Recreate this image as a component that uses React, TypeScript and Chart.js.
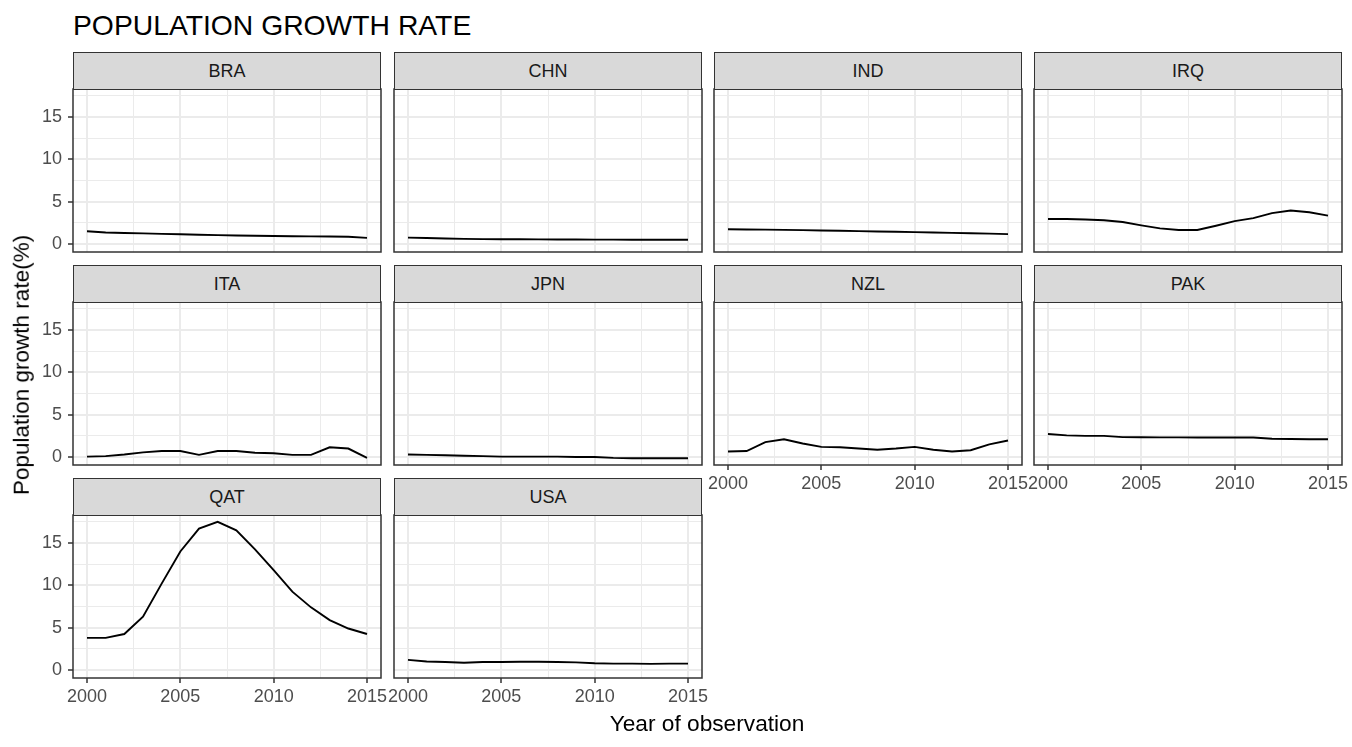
import { useEffect, useRef } from 'react';
import Chart from 'chart.js/auto';

const years = [2000, 2001, 2002, 2003, 2004, 2005, 2006, 2007, 2008, 2009, 2010, 2011, 2012, 2013, 2014, 2015];

// growth rate (%) per country
const braRate = [1.5, 1.35, 1.3, 1.25, 1.2, 1.15, 1.1, 1.05, 1.0, 0.97, 0.95, 0.92, 0.9, 0.88, 0.85, 0.72];
const chnRate = [0.75, 0.7, 0.65, 0.6, 0.58, 0.57, 0.56, 0.55, 0.54, 0.53, 0.52, 0.52, 0.51, 0.5, 0.5, 0.5];
const indRate = [1.75, 1.72, 1.7, 1.67, 1.64, 1.6, 1.56, 1.52, 1.48, 1.44, 1.4, 1.36, 1.32, 1.27, 1.22, 1.17];
const irqRate = [2.95, 2.95, 2.9, 2.8, 2.6, 2.2, 1.85, 1.65, 1.65, 2.15, 2.7, 3.05, 3.65, 3.95, 3.75, 3.35];
const itaRate = [0.05, 0.1, 0.3, 0.55, 0.7, 0.7, 0.25, 0.7, 0.7, 0.5, 0.45, 0.25, 0.25, 1.15, 1.0, -0.1];
const jpnRate = [0.3, 0.25, 0.2, 0.15, 0.1, 0.05, 0.05, 0.05, 0.05, 0.0, 0.0, -0.1, -0.15, -0.15, -0.15, -0.15];
const nzlRate = [0.65, 0.7, 1.75, 2.1, 1.6, 1.2, 1.15, 1.0, 0.85, 1.0, 1.2, 0.85, 0.65, 0.8, 1.5, 1.95];
const pakRate = [2.72, 2.55, 2.5, 2.5, 2.35, 2.33, 2.32, 2.32, 2.31, 2.3, 2.3, 2.3, 2.15, 2.12, 2.1, 2.1];
const qatRate = [3.8, 3.8, 4.25, 6.3, 10.2, 14.0, 16.7, 17.5, 16.5, 14.25, 11.8, 9.25, 7.4, 5.9, 4.9, 4.25];
const usaRate = [1.2, 1.0, 0.95, 0.85, 0.95, 0.95, 0.97, 0.97, 0.95, 0.9, 0.8, 0.75, 0.75, 0.72, 0.75, 0.75];

const countries = ['BRA', 'CHN', 'IND', 'IRQ', 'ITA', 'JPN', 'NZL', 'PAK', 'QAT', 'USA'];
const rates = [braRate, chnRate, indRate, irqRate, itaRate, jpnRate, nzlRate, pakRate, qatRate, usaRate];

const xGrid = [2000, 2002.5, 2005, 2007.5, 2010, 2012.5, 2015];
const yGrid = [0, 2.5, 5, 7.5, 10, 12.5, 15, 17.5];
const xLabels = [2000, 2005, 2010, 2015];
const yLabels = [0, 5, 10, 15];

const FONT = '"Liberation Sans", Arial, Helvetica, sans-serif';
Chart.defaults.font.family = FONT;

const colLeft = [73, 394, 714, 1034];
const stripTop = [52, 265, 478];
const PANEL_W = 308;
const PANEL_H = 163;
const STRIP_H = 37;
const AXIS_W = 45;
const AXIS_H = 34;
const PAD_T = 24;
const PAD_R = 30;

const panelBorder = {
  id: 'panelBorder',
  afterDraw(chart: any) {
    const { ctx, chartArea: a } = chart;
    ctx.save();
    ctx.strokeStyle = '#333333';
    ctx.lineWidth = 1.5;
    ctx.strokeRect(a.left, a.top, a.right - a.left, a.bottom - a.top);
    ctx.restore();
  },
};

function Panel({ code, values, col, row, showX, showY }: { code: string; values: number[]; col: number; row: number; showX: boolean; showY: boolean }) {
  const ref = useRef<HTMLCanvasElement>(null);

  useEffect(() => {
    if (!ref.current) return;
    const chart = new Chart(ref.current, {
      type: 'line',
      data: {
        datasets: [
          {
            label: code,
            data: years.map((yr, i) => ({ x: yr, y: values[i] })),
            borderColor: '#000000',
            borderWidth: 1.9,
            pointRadius: 0,
            tension: 0,
            fill: false,
          },
        ],
      },
      options: {
        animation: false,
        responsive: true,
        maintainAspectRatio: false,
        layout: { padding: { top: PAD_T, right: PAD_R, left: 0, bottom: 0 } },
        plugins: { legend: { display: false }, tooltip: { enabled: false } },
        scales: {
          x: {
            type: 'linear',
            bounds: 'data',
            min: 1999.25,
            max: 2015.75,
            afterBuildTicks: (s: any) => {
              s.ticks = xGrid.map((v) => ({ value: v }));
            },
            afterFit: (s: any) => {
              s.height = AXIS_H;
            },
            ticks: {
              display: showX,
              autoSkip: false,
              maxRotation: 0,
              padding: 3,
              color: '#4D4D4D',
              font: { size: 18 },
              callback: (v: any) => (xLabels.includes(Number(v)) ? String(v) : ''),
            },
            grid: {
              color: '#EBEBEB',
              lineWidth: (c: any) => (c.tick && xLabels.includes(c.tick.value) ? 2 : 1),
              drawTicks: showX,
              tickLength: 5,
              tickWidth: 1.5,
              tickColor: (c: any) => (c.tick && xLabels.includes(c.tick.value) ? '#333333' : 'rgba(0,0,0,0)'),
            },
            border: { display: false },
          },
          y: {
            type: 'linear',
            bounds: 'data',
            min: -0.945,
            max: 18.31,
            afterBuildTicks: (s: any) => {
              s.ticks = yGrid.map((v) => ({ value: v }));
            },
            afterFit: (s: any) => {
              s.width = AXIS_W;
            },
            ticks: {
              display: showY,
              autoSkip: false,
              padding: 6,
              color: '#4D4D4D',
              font: { size: 18 },
              callback: (v: any) => (yLabels.includes(Number(v)) ? String(v) : ''),
            },
            grid: {
              color: '#EBEBEB',
              lineWidth: (c: any) => (c.tick && yLabels.includes(c.tick.value) ? 2 : 1),
              drawTicks: showY,
              tickLength: 5,
              tickWidth: 1.5,
              tickColor: (c: any) => (c.tick && yLabels.includes(c.tick.value) ? '#333333' : 'rgba(0,0,0,0)'),
            },
            border: { display: false },
          },
        },
      },
      plugins: [panelBorder],
    });
    return () => chart.destroy();
  }, [code, values, showX, showY]);

  const left = colLeft[col];
  const top = stripTop[row];

  return (
    <>
      <div
        style={{
          position: 'absolute',
          left: left - AXIS_W,
          top: top + STRIP_H - PAD_T,
          width: PANEL_W + AXIS_W + PAD_R,
          height: PANEL_H + PAD_T + AXIS_H,
        }}
      >
        <canvas ref={ref} />
      </div>
      <div
        style={{
          position: 'absolute',
          left,
          top,
          width: PANEL_W,
          height: STRIP_H + 1,
          boxSizing: 'border-box',
          background: '#D9D9D9',
          border: '1.5px solid #333333',
          display: 'flex',
          alignItems: 'center',
          justifyContent: 'center',
          fontFamily: FONT,
          fontSize: 18,
          color: '#1A1A1A',
        }}
      >
        {code}
      </div>
    </>
  );
}

export default function App() {
  return (
    <div style={{ position: 'absolute', left: 0, top: 0, width: 1352, height: 747, background: '#FFFFFF', overflow: 'hidden' }}>
      <div style={{ position: 'absolute', left: 73, top: 11, fontFamily: FONT, fontSize: 28.3, lineHeight: 1, color: '#000000', whiteSpace: 'nowrap' }}>
        POPULATION GROWTH RATE
      </div>
      {countries.map((code, i) => {
        const row = Math.floor(i / 4);
        const col = i % 4;
        const showX = i >= 6;
        return <Panel key={code} code={code} values={rates[i]} col={col} row={row} showX={showX} showY={col === 0} />;
      })}
      <div
        style={{
          position: 'absolute',
          left: 22,
          top: 365,
          transform: 'translate(-50%, -50%) rotate(-90deg)',
          fontFamily: FONT,
          fontSize: 22.5,
          lineHeight: 1,
          color: '#000000',
          whiteSpace: 'nowrap',
        }}
      >
        Population growth rate(%)
      </div>
      <div
        style={{
          position: 'absolute',
          left: 707,
          top: 712,
          transform: 'translateX(-50%)',
          fontFamily: FONT,
          fontSize: 22.7,
          lineHeight: 1,
          color: '#000000',
          whiteSpace: 'nowrap',
        }}
      >
        Year of observation
      </div>
    </div>
  );
}
